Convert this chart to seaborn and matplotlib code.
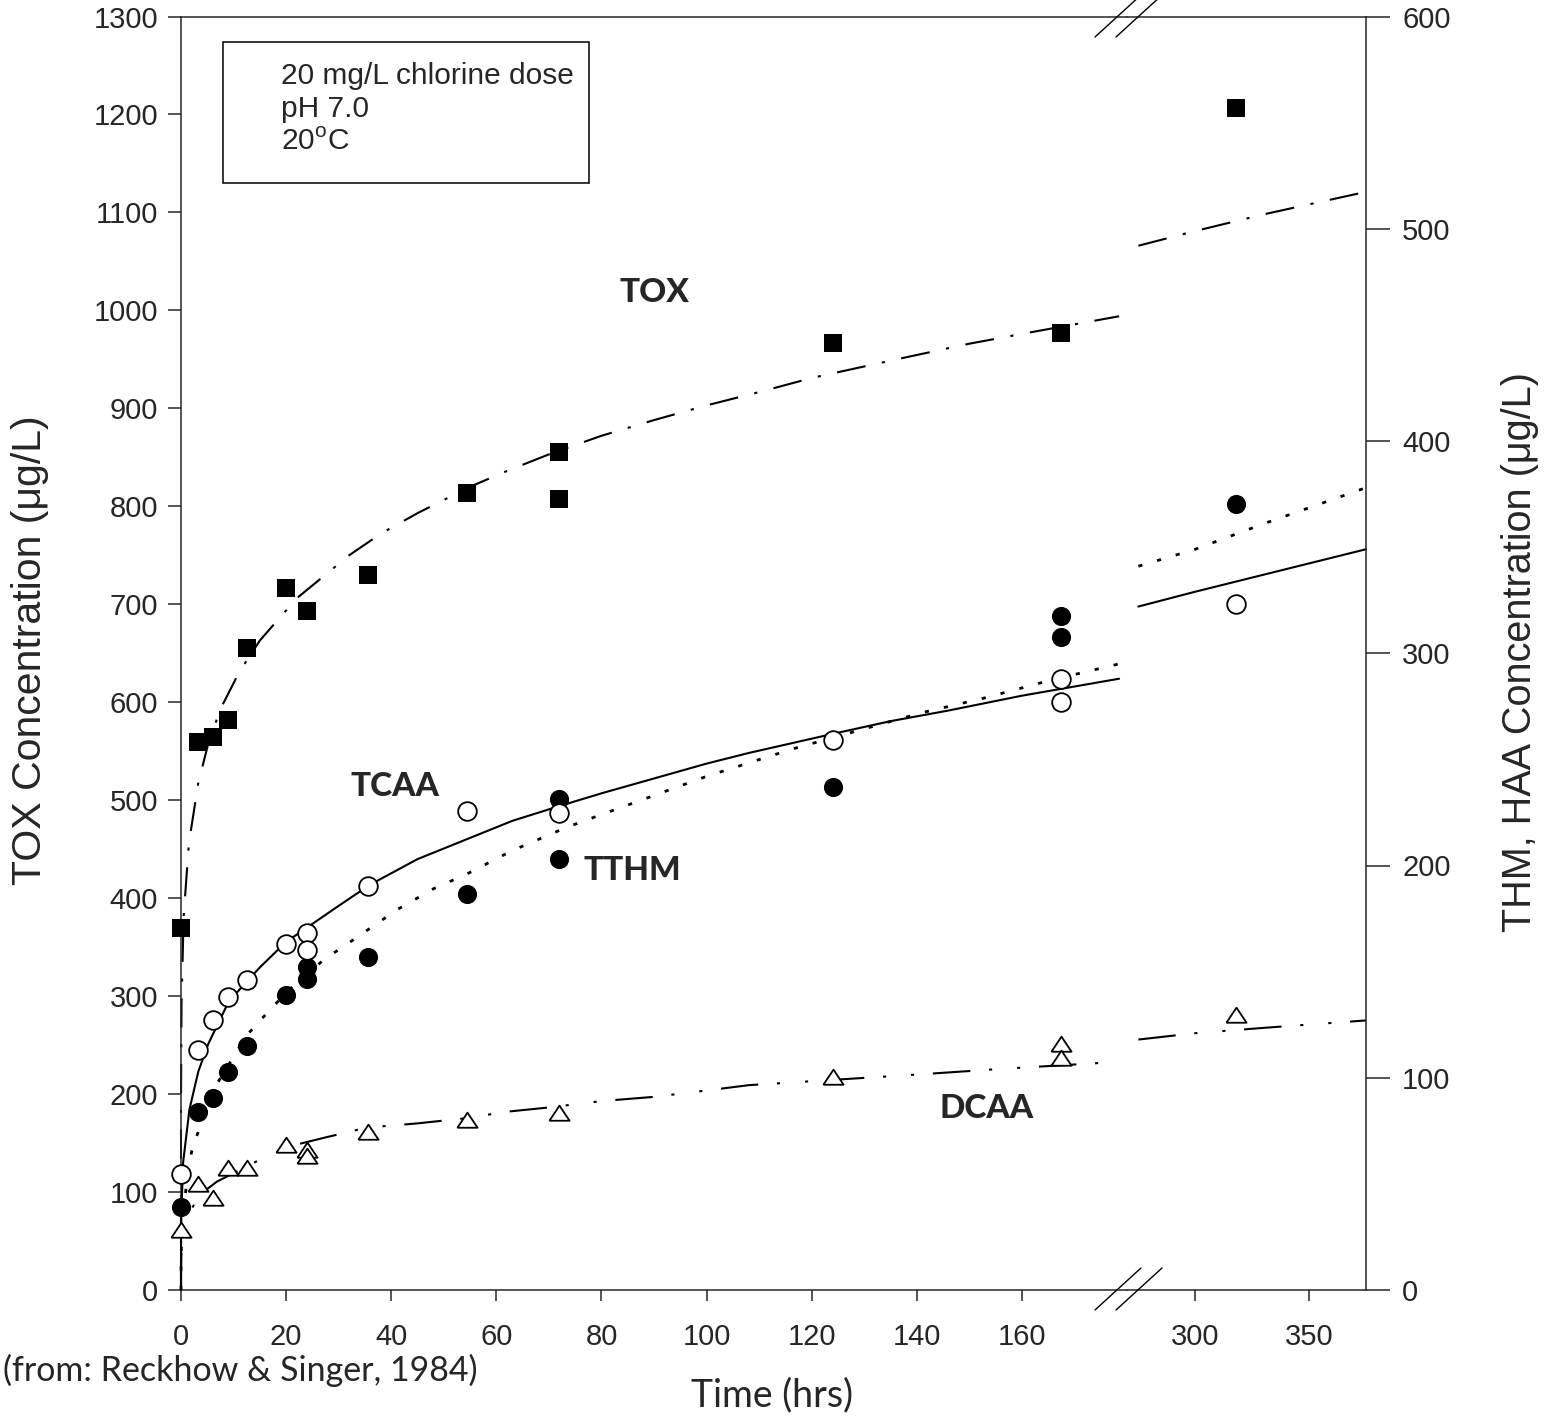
import numpy as np
import matplotlib
matplotlib.use("Agg")
import matplotlib.pyplot as plt
from matplotlib.lines import Line2D
from matplotlib.patches import Rectangle
import seaborn as sns

# ---- measured points (time in hrs) ----
# TOX on the left axis, THM / HAA on the right axis (ug/L)
tox_t = [0, 3.3, 6, 9, 12.5, 20, 24, 35.5, 54.5, 72, 72, 124, 167.5, 318]
tox_v = [370, 559, 565, 582, 655, 717, 693, 730, 814, 855, 807, 967, 977, 1207]

tcaa_t = [0, 3.3, 6, 9, 12.5, 20, 24, 24, 35.5, 54.5, 72, 124, 167.5, 167.5, 318]
tcaa_v = [54.5, 113, 127, 138, 146, 163, 168, 160, 190.5, 225.5, 224.5, 259, 288, 277, 323]

tthm_t = [0, 3.3, 6, 9, 12.5, 20, 24, 24, 35.5, 54.5, 72, 72, 124, 167.5, 167.5, 318]
tthm_v = [39, 84, 90.5, 102.5, 115, 139, 146.5, 152, 157, 186.5, 231.5, 203, 237, 317.5, 307.5, 370.5]

dcaa_t = [0, 3.3, 6, 9, 12.5, 20, 24, 24, 35.5, 54.5, 72, 124, 167.5, 167.5, 318]
dcaa_v = [28.5, 50, 43.5, 57.5, 57.5, 68.5, 66, 63, 74.5, 80, 83.5, 100.5, 116, 109.5, 129.5]

# ---- fitted curves ----
tox_fit_t = [0, 0.003, 0.01, 0.1, 0.5, 1.5, 3.3, 5.2, 7.5, 11.1, 15, 22, 32, 38, 45, 55, 62, 70, 80, 90,
             100, 111, 120, 137, 150, 160, 178.5,
             275, 300, 330, 375]
tox_fit_v = [0, 165, 200, 293, 381, 456, 518, 558, 593, 631, 663, 706, 750, 772, 793, 820, 836, 853, 872, 888,
             903, 918, 931, 951, 966, 976, 994,
             1066, 1081, 1098, 1121]

tcaa_fit_t = [0, 0.01, 0.05, 0.4, 1.6, 3.3, 5.2, 9.1, 15, 20, 30, 36, 45, 55, 63, 72, 80, 90, 100, 108, 116,
              124, 135, 146, 160, 178.5,
              275, 300, 330, 375]
tcaa_fit_v = [0, 23, 35, 60, 85, 103, 116, 136, 152, 164, 181, 191, 203, 213, 221, 228, 234, 241, 248, 253,
              257.5, 262, 268, 273, 280, 288,
              322, 329, 337, 349]

tthm_fit_t = [0, 0.01, 0.1, 0.5, 2, 3.6, 6.8, 12.5, 17.3, 22, 27.4, 32.8, 41, 48, 54.4, 63, 73.4, 80, 90,
              100, 116.5, 128, 141, 153, 165, 178.5,
              275, 300, 330, 375]
tthm_fit_v = [0, 11, 24, 40, 65, 77, 97, 120, 133, 145, 156, 165, 179, 189, 196, 207, 218, 224, 233,
              242, 255, 263, 272, 279, 287, 295,
              341, 349, 361, 378]

dcaa_fit_t = [0, 0.01, 0.1, 0.5, 1.5, 3.6, 6.8, 13.1, 19.5, 27.7, 35.3, 45, 54.4, 62, 70, 80, 90, 100, 108,
              124, 140, 155, 165, 178.5,
              275, 300, 330, 375]
dcaa_fit_v = [0, 11, 19, 28, 36, 45, 51, 59, 67, 72, 76.5, 78.5, 81, 84, 86, 89, 91, 94, 96.5,
              99, 101.5, 104, 105.5, 107.5,
              118, 121, 123.5, 127]

W, H = 1548, 1418

sns.set_style("ticks")
plt.rcParams['font.family'] = ['Liberation Sans', 'DejaVu Sans']
plt.rcParams['mathtext.fontset'] = 'custom'
plt.rcParams['mathtext.rm'] = 'Liberation Sans'
plt.rcParams['axes.linewidth'] = 1.1

fig = plt.figure(figsize=(W / 100, H / 100), dpi=100)

x0, xb, x1 = 181, 1127, 1366
ybot, ytop = 1290, 16.5
bottom = 1 - ybot / H
height = (ybot - ytop) / H
axL = fig.add_axes([x0 / W, bottom, (xb - x0) / W, height])
axR = fig.add_axes([xb / W, bottom, (x1 - xb) / W, height])
axL2 = axL.twinx()
axR2 = axR.twinx()

LW = 1.5
tox_ls = (0, (14, 8, 1.5, 8))
tthm_ls = (0, (1.5, 5.5))
dcaa_ls = (0, (18, 9, 1.5, 12, 1.5, 9))

split = 200  # fit arrays are split at the axis break
for ax, ax2, keep in [(axL, axL2, lambda t: t < split), (axR, axR2, lambda t: t > split)]:
    def sel(tt, vv):
        pts = [(a, b) for a, b in zip(tt, vv) if keep(a)]
        return [p[0] for p in pts], [p[1] for p in pts]

    t, v = sel(tox_fit_t, tox_fit_v)
    sns.lineplot(x=t, y=v, ax=ax, color='k', lw=LW, linestyle=tox_ls, sort=False,
                 estimator=None, clip_on=False)
    t, v = sel(tcaa_fit_t, tcaa_fit_v)
    sns.lineplot(x=t, y=v, ax=ax2, color='k', lw=LW, sort=False, estimator=None, clip_on=False)
    t, v = sel(tthm_fit_t, tthm_fit_v)
    sns.lineplot(x=t, y=v, ax=ax2, color='k', lw=LW + 0.5, linestyle=tthm_ls, sort=False,
                 estimator=None, clip_on=False)
    t, v = sel(dcaa_fit_t, dcaa_fit_v)
    sns.lineplot(x=t, y=v, ax=ax2, color='k', lw=LW, linestyle=dcaa_ls, sort=False,
                 estimator=None, clip_on=False)

    t, v = sel(tox_t, tox_v)
    sns.scatterplot(x=t, y=v, ax=ax, marker='s', s=185, color='k', edgecolor='k',
                    linewidth=0, clip_on=False, zorder=5)
    t, v = sel(tthm_t, tthm_v)
    sns.scatterplot(x=t, y=v, ax=ax2, marker='o', s=190, color='k', edgecolor='k',
                    linewidth=0, clip_on=False, zorder=5)
    t, v = sel(tcaa_t, tcaa_v)
    sns.scatterplot(x=t, y=v, ax=ax2, marker='o', s=180, color='white', edgecolor='k',
                    linewidth=1.3, clip_on=False, zorder=6)
    t, v = sel(dcaa_t, dcaa_v)
    sns.scatterplot(x=t, y=v, ax=ax2, marker=[(-1, -0.72), (1, -0.72), (0, 0.78), (-1, -0.72)],
                    s=210, color='white', edgecolor='k', linewidth=1.3, clip_on=False, zorder=6)

for ax in (axL, axL2):
    ax.set_xlim(0, 180)
for ax in (axR, axR2):
    ax.set_xlim(270, 375)
for ax in (axL, axR):
    ax.set_ylim(0, 1300)
for ax in (axL2, axR2):
    ax.set_ylim(0, 600)

axL.set_xticks(np.arange(0, 161, 20))
axR.set_xticks([300, 350])
axL.set_yticks(np.arange(0, 1301, 100))
axR2.set_yticks(np.arange(0, 601, 100))

for ax in (axL, axR, axL2, axR2):
    ax.set_xlabel('')
    ax.set_ylabel('')
    for s in ax.spines.values():
        s.set_visible(False)

axL.spines['left'].set_visible(True)
axL.spines['bottom'].set_visible(True)
axL.spines['top'].set_visible(True)
axR.spines['bottom'].set_visible(True)
axR.spines['top'].set_visible(True)
axR2.spines['right'].set_visible(True)

fs_tick = 21
axL.tick_params(axis='y', direction='out', length=9.5, width=1.1, pad=7, labelsize=fs_tick)
axL.tick_params(axis='x', direction='out', length=8, width=1.1, pad=16, labelsize=fs_tick)
axR.tick_params(axis='x', direction='out', length=8, width=1.1, pad=16, labelsize=fs_tick)
axR.tick_params(axis='y', left=False, labelleft=False)
axL2.tick_params(axis='y', right=False, labelright=False)
axR2.tick_params(axis='y', direction='out', length=17, width=1.1, pad=9, labelsize=fs_tick)

# axis labels
fig.text(30 / W, 1 - 650 / H, 'TOX Concentration (\u03bcg/L)', rotation=90, ha='center', va='center',
         fontsize=29.5)
fig.text(1520 / W, 1 - 652 / H, 'THM, HAA Concentration (\u03bcg/L)', rotation=90, ha='center',
         va='center', fontsize=28.5)
fig.text(772 / W, 1 - 1395 / H, 'Time (hrs)', ha='center', va='center', fontsize=27,
         family=['Lato', 'DejaVu Sans'])
fig.text(3 / W, 1 - 1370 / H, '(from: Reckhow & Singer, 1984)', ha='left', va='center',
         fontsize=24.5, family=['Lato', 'DejaVu Sans'])

# series names
lab = dict(ha='center', va='center', fontsize=24, fontweight='black', family=['Lato', 'DejaVu Sans'])
fig.text(654 / W, 1 - 293 / H, 'TOX', **lab)
fig.text(395 / W, 1 - 786 / H, 'TCAA', **lab)
fig.text(632 / W, 1 - 870 / H, 'TTHM', **lab)
fig.text(987 / W, 1 - 1109 / H, 'DCAA', **lab)

# conditions box
fig.add_artist(Rectangle((223 / W, 1 - 183 / H), (589 - 223) / W, (183 - 42) / H,
                         transform=fig.transFigure, fill=False, lw=1.1, ec='k'))
fig.text(281 / W, 1 - 62 / H, '20 mg/L chlorine dose\npH 7.0\n20$^{\\mathrm{o}}$C', ha='left',
         va='top', fontsize=21.5, linespacing=1.22)

# axis break marks
for xa, ya, xb2, yb2 in [(1095, 1310, 1141, 1268), (1116, 1310, 1162, 1268),
                         (1095, 37, 1141, -5), (1116, 37, 1162, -5)]:
    fig.add_artist(Line2D([xa / W, xb2 / W], [1 - ya / H, 1 - yb2 / H], transform=fig.transFigure,
                          color='k', lw=1.0))

fig.savefig('out.png', dpi=100)
